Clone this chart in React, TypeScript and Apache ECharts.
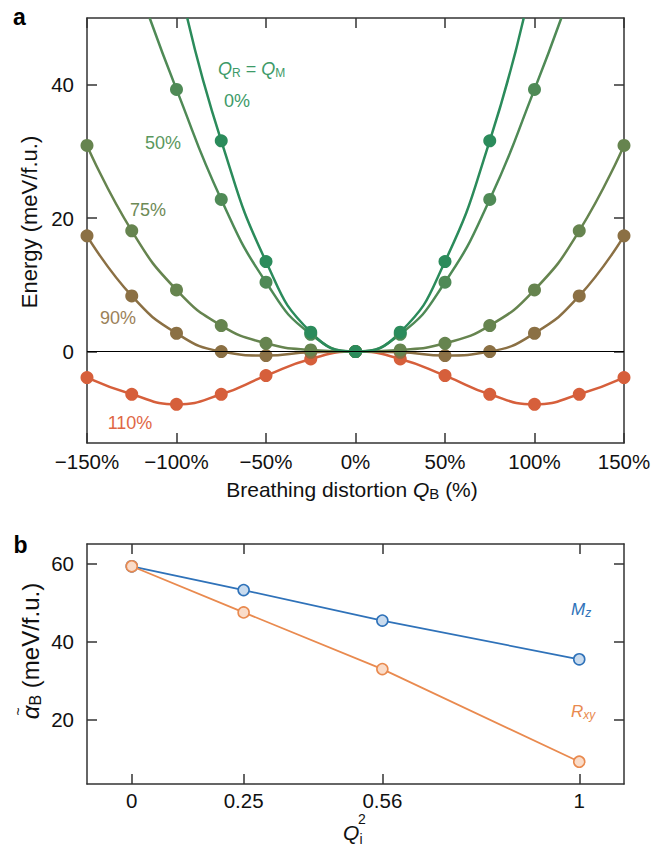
import React, { useEffect, useRef } from "react";
import * as echarts from "echarts";

// ---------- Panel a data (breathing distortion Q_B in %, energy in meV/f.u.) ----------
const breathingPct = [-150, -125, -100, -75, -50, -25, 0, 25, 50, 75, 100, 125, 150];
const pct0X = [-75, -50, -25, 0, 25, 50, 75];
const pct0E = [31.6, 13.5, 2.9, 0, 2.9, 13.5, 31.6];
const pct0ExitX = [-94, 94]; // where the 0% curve leaves the frame (E = 50)
const pct50X = [-100, -75, -50, -25, 0, 25, 50, 75, 100];
const pct50E = [39.3, 22.8, 10.4, 2.6, 0, 2.6, 10.4, 22.8, 39.3];
const pct50ExitX = [-115, 115]; // where the 50% curve leaves the frame (E = 50)
const pct75E = [30.9, 18.1, 9.25, 3.9, 1.25, 0.25, 0, 0.25, 1.25, 3.9, 9.25, 18.1, 30.9];
const pct90E = [17.35, 8.35, 2.75, 0, -0.6, -0.1, 0, -0.1, -0.6, 0, 2.75, 8.35, 17.35];
const pct110E = [-3.9, -6.4, -7.9, -6.4, -3.6, -1.1, 0, -1.1, -3.6, -6.4, -7.9, -6.4, -3.9];
const energyTicks = [0, 20, 40];
const energyMin = -13.7;
const energyMax = 50;

// ---------- Panel b data ----------
const qiSquared = [0, 0.25, 0.56, 1];
const alphaMz = [59.3, 53.2, 45.4, 35.5];
const alphaRxy = [59.3, 47.5, 33.0, 9.3];
const alphaTicks = [20, 40, 60];

const FONT = "'Liberation Sans', Arial, Helvetica, sans-serif";
const C0 = "#2b8b5b";
const C50 = "#4f8a56";
const C75 = "#66844f";
const C90 = "#8b7044";
const C110 = "#d65f3b";
const BLUE = "#2f72b9";
const ORANGE = "#e98a4f";
const AX = "#333333";

const zip = (xs: number[], ys: number[]) => xs.map((x, i) => [x, ys[i]]);

export default function App() {
  const ref = useRef<HTMLDivElement>(null);
  useEffect(() => {
    if (!ref.current) return;
    const chart = echarts.init(ref.current, null, { renderer: "svg" });

    const axisLine = { show: true, onZero: false, lineStyle: { color: AX, width: 1.5 } };
    const tick = (vals?: number[]) => ({
      show: true,
      inside: true,
      length: 10,
      lineStyle: { color: AX, width: 1.5 },
      ...(vals ? { customValues: vals } : {}),
    });
    const label = (extra: any) => ({
      fontSize: 20.5,
      color: "#111",
      fontFamily: FONT,
      ...extra,
    });
    const pctFmt = (v: number) => (v < 0 ? "\u2212" + -v + "%" : v + "%");

    const curve = (data: number[][], color: string) => ({
      type: "line",
      xAxisIndex: 0,
      yAxisIndex: 0,
      data,
      smooth: 0.5,
      showSymbol: false,
      symbol: "none",
      lineStyle: { color, width: 2.5 },
      z: 3,
      silent: true,
    });
    const dots = (data: number[][], color: string) => ({
      type: "scatter",
      xAxisIndex: 0,
      yAxisIndex: 0,
      data,
      symbol: "circle",
      symbolSize: 13,
      itemStyle: { color, opacity: 1 },
      z: 4,
      silent: true,
    });

    const rich = (fs: number, subFs: number, italic: boolean, color: string) => ({
      t: { fontSize: fs, fontFamily: FONT, fill: color, color },
      q: { fontSize: fs, fontFamily: FONT, fontStyle: italic ? "italic" : "normal", fill: color, color },
      s: { fontSize: subFs, fontFamily: FONT, fill: color, color, padding: [Math.round(fs * 0.42), 0, 0, 0] },
      si: { fontSize: subFs, fontFamily: FONT, fontStyle: "italic", fill: color, color, padding: [Math.round(fs * 0.42), 0, 0, 0] },
    });

    const txt = (x: number, y: number, text: string, color: string, fs: number, extra: any = {}) => ({
      type: "text",
      x,
      y,
      silent: true,
      style: {
        text,
        fill: color,
        fontSize: fs,
        fontFamily: FONT,
        align: "center",
        verticalAlign: "middle",
        ...extra,
      },
    });

    // layout of rotated alpha title (local coords, text runs along +x)
    const aFs = 24;
    const aSubFs = 16;
    const alphaW = 0.56 * aFs;
    const subW = 0.667 * aSubFs;
    const restW = (0.278 + 4.39) * aFs;
    const totalW = alphaW + subW + restW;
    const alphaCenterLocal = -totalW / 2 + alphaW / 2;

    const option: any = {
      animation: false,
      textStyle: { fontFamily: FONT },
      grid: [
        { left: 87, top: 18, width: 537, height: 425, containLabel: false },
        { left: 87, top: 544, width: 537, height: 240, containLabel: false },
      ],
      xAxis: [
        {
          type: "value", gridIndex: 0, position: "bottom", min: -150, max: 150, interval: 50,
          axisLine, axisTick: tick(), splitLine: { show: false },
          axisLabel: label({ margin: 8, formatter: pctFmt }),
        },
        {
          type: "value", gridIndex: 0, position: "top", min: -150, max: 150, interval: 50,
          axisLine, axisTick: tick(), splitLine: { show: false }, axisLabel: { show: false },
        },
        {
          type: "value", gridIndex: 1, position: "bottom", min: -0.1, max: 1.1,
          axisLine, axisTick: tick(qiSquared), splitLine: { show: false },
          axisLabel: label({ margin: 6, customValues: qiSquared, formatter: (v: number) => String(v) }),
        },
        {
          type: "value", gridIndex: 1, position: "top", min: -0.1, max: 1.1,
          axisLine, axisTick: tick(qiSquared), splitLine: { show: false }, axisLabel: { show: false },
        },
      ],
      yAxis: [
        {
          type: "value", gridIndex: 0, position: "left", min: energyMin, max: energyMax,
          axisLine, axisTick: tick(energyTicks), splitLine: { show: false },
          axisLabel: label({ margin: 13, customValues: energyTicks }),
        },
        {
          type: "value", gridIndex: 0, position: "right", min: energyMin, max: energyMax,
          axisLine, axisTick: tick(energyTicks), splitLine: { show: false }, axisLabel: { show: false },
        },
        {
          type: "value", gridIndex: 1, position: "left", min: 3.6, max: 65,
          axisLine, axisTick: tick(alphaTicks), splitLine: { show: false },
          axisLabel: label({ margin: 13, customValues: alphaTicks }),
        },
        {
          type: "value", gridIndex: 1, position: "right", min: 3.6, max: 65,
          axisLine, axisTick: tick(alphaTicks), splitLine: { show: false }, axisLabel: { show: false },
        },
      ],
      series: [
        {
          type: "line",
          xAxisIndex: 0,
          yAxisIndex: 0,
          data: [],
          silent: true,
          z: 1,
          markLine: {
            silent: true,
            symbol: "none",
            label: { show: false },
            lineStyle: { color: "#000", width: 1.2, type: "solid" },
            data: [{ yAxis: 0 }],
          },
        },
        curve(zip(breathingPct, pct110E), C110),
        curve(zip(breathingPct, pct90E), C90),
        curve(zip(breathingPct, pct75E), C75),
        curve([[pct50ExitX[0], energyMax], ...zip(pct50X, pct50E), [pct50ExitX[1], energyMax]], C50),
        curve([[pct0ExitX[0], energyMax], ...zip(pct0X, pct0E), [pct0ExitX[1], energyMax]], C0),
        dots(zip(breathingPct, pct110E), C110),
        dots(zip(breathingPct, pct90E), C90),
        dots(zip(breathingPct, pct75E), C75),
        dots(zip(pct50X, pct50E), C50),
        dots(zip(pct0X, pct0E), C0),
        {
          type: "line",
          xAxisIndex: 2,
          yAxisIndex: 2,
          data: zip(qiSquared, alphaMz),
          symbol: "circle",
          symbolSize: 11,
          showSymbol: true,
          lineStyle: { color: BLUE, width: 1.8 },
          itemStyle: { color: "#c9dbee", borderColor: BLUE, borderWidth: 1.6 },
          z: 3,
          silent: true,
        },
        {
          type: "line",
          xAxisIndex: 2,
          yAxisIndex: 2,
          data: zip(qiSquared, alphaRxy),
          symbol: "circle",
          symbolSize: 11,
          showSymbol: true,
          lineStyle: { color: ORANGE, width: 1.8 },
          itemStyle: { color: "#fadcc9", borderColor: ORANGE, borderWidth: 1.6 },
          z: 4,
          silent: true,
        },
      ],
      graphic: [
        txt(19.5, 17.4, "a", "#000", 23, { fontWeight: "bold" }),
        txt(20.5, 545, "b", "#000", 23, { fontWeight: "bold" }),
        // panel a labels
        {
          type: "text", x: 218, y: 68.5, silent: true,
          style: {
            text: "{q|Q}{s|R}{t| = }{q|Q}{s|M}",
            rich: rich(18, 12, true, "#3d9a68"),
            align: "left", verticalAlign: "middle",
          },
        },
        txt(237, 101, "0%", "#3d9a68", 18),
        txt(163, 143, "50%", "#5a975d", 18),
        txt(148, 209.5, "75%", "#6d8a56", 18),
        txt(118, 318, "90%", "#9b8158", 18),
        txt(130, 423, "110%", "#df6745", 18),
        {
          type: "text", x: 352, y: 489, silent: true,
          style: {
            text: "{t|Breathing distortion }{q|Q}{s|B}{t| (%)}",
            rich: rich(21, 15, true, "#111"),
            align: "center", verticalAlign: "middle",
          },
        },
        {
          type: "text", x: 29, y: 222, rotation: Math.PI / 2, silent: true,
          style: {
            text: "Energy (meV/f.u.)",
            fill: "#111",
            fontSize: 22,
            fontFamily: FONT,
            align: "center", verticalAlign: "middle",
          },
        },
        // panel b labels
        {
          type: "text", x: 571, y: 609.5, silent: true,
          style: {
            text: "{q|M}{si|z}",
            rich: rich(17, 12, true, BLUE),
            align: "left", verticalAlign: "middle",
          },
        },
        {
          type: "text", x: 571, y: 711, silent: true,
          style: {
            text: "{q|R}{si|xy}",
            rich: rich(17, 12, true, ORANGE),
            align: "left", verticalAlign: "middle",
          },
        },
        {
          type: "group", x: 30, y: 651, rotation: Math.PI / 2, silent: true,
          children: [
            {
              type: "text", x: 0, y: 0, silent: true,
              style: {
                text: "{q|\u03b1}{s|B}{t| (meV/f.u.)}",
                rich: rich(aFs, aSubFs, true, "#111"),
                align: "center", verticalAlign: "middle",
              },
            },
            {
              type: "text", x: alphaCenterLocal + 1, y: -12, silent: true,
              style: {
                text: "~",
                fill: "#111",
                fontSize: 14,
                fontFamily: FONT,
                align: "center", verticalAlign: "middle",
              },
            },
          ],
        },
        {
          type: "text", x: 343, y: 832, silent: true,
          style: {
            text: "Q", fill: "#111", fontSize: 21, fontStyle: "italic", fontFamily: FONT,
            align: "left", verticalAlign: "middle",
          },
        },
        txt(362, 819, "2", "#111", 14),
        txt(361, 839, "i", "#111", 14),
      ],
    };

    chart.setOption(option);
    return () => chart.dispose();
  }, []);

  return (
    <div
      ref={ref}
      style={{ position: "fixed", left: 0, top: 0, width: 667, height: 848, background: "#fff" }}
    />
  );
}
